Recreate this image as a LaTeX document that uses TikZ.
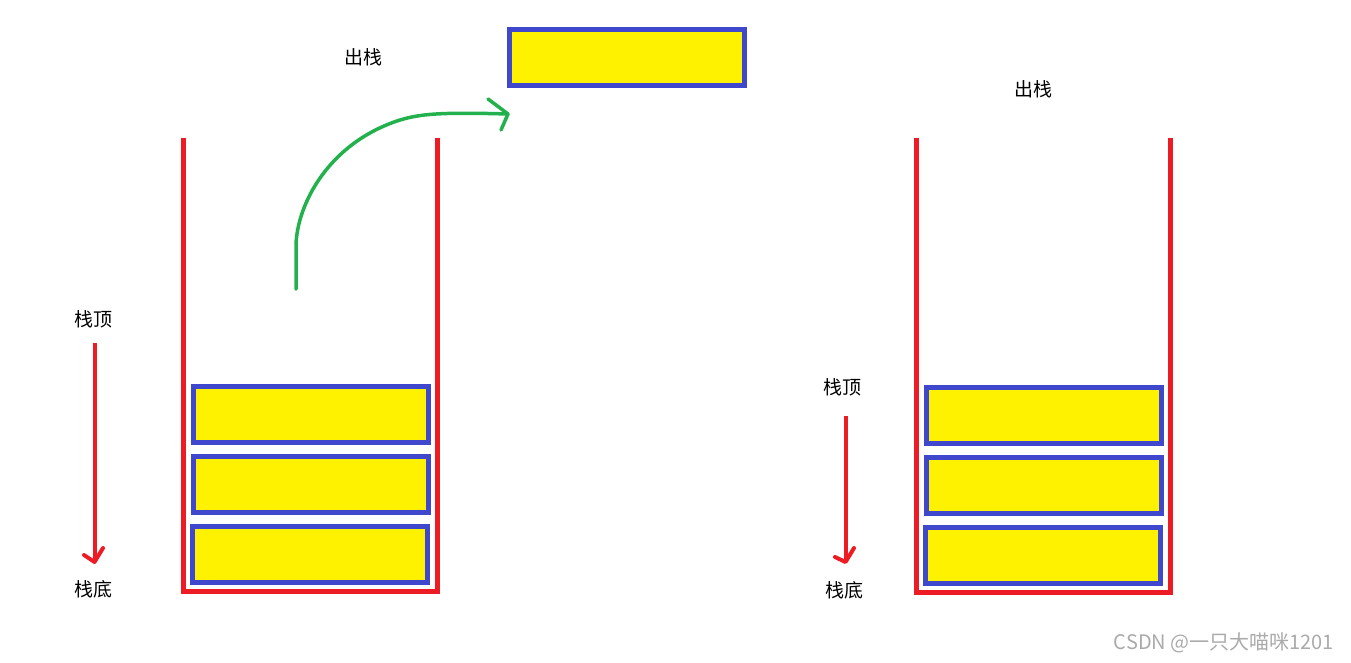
\documentclass[tikz,border=0pt]{standalone}
\usepackage{fontspec}
\setmainfont{Noto Sans CJK SC}
\definecolor{pred}{RGB}{237,28,36}
\definecolor{pblue}{RGB}{63,72,204}
\definecolor{pyellow}{RGB}{255,242,0}
\definecolor{pgreen}{RGB}{34,177,76}
\definecolor{wgray}{RGB}{170,170,170}
\tikzset{
  elem/.style={draw=pblue, fill=pyellow, line width=5pt, minimum width=235pt, minimum height=56pt, inner sep=0pt, rectangle},
  lbl/.style={inner sep=0pt, font=\fontsize{19}{19}\selectfont},
  wall/.style={draw=pred, line width=5pt, miter limit=10},
  redarrow/.style={draw=pred, line width=4pt},
  redhead/.style={draw=pred, line width=4pt, line cap=round, line join=round},
  greenline/.style={draw=pgreen, line width=3.5pt, line cap=round, line join=round}
}
\begin{document}
\begin{tikzpicture}[x=1pt,y=-1pt]
\useasboundingbox (0,0) rectangle (1351,662);
% left stack
\draw[wall] (183.5,138) -- (183.5,591.5) -- (437.5,591.5) -- (437.5,138);
\node[elem] (l1) at (311,414.5) {};
\node[elem] (l2) at (311,484.5) {};
\node[elem] (l3) at (310,554.5) {};
% popped element
\node[elem] (pop) at (627,57.5) {};
\node[lbl] (out1) at (363,57) {出栈};
% right stack
\draw[wall] (916.5,138) -- (916.5,592.5) -- (1170.5,592.5) -- (1170.5,138);
\node[elem] (r1) at (1044,415.5) {};
\node[elem] (r2) at (1044,485.5) {};
\node[elem] (r3) at (1043,555.5) {};
\node[lbl] (out2) at (1033,89) {出栈};
% left labels and arrow
\node[lbl] (ltop) at (93,319.5) {栈顶};
\node[lbl] (lbot) at (93,589) {栈底};
\coordinate (la1) at (94.5,343);
\coordinate (la2) at (94.5,562);
\draw[redarrow] (la1) -- (la2);
\draw[redhead] (84,555) -- (la2) -- (103,548);
% right labels and arrow
\node[lbl] (rtop) at (842,387) {栈顶};
\node[lbl] (rbot) at (844,590) {栈底};
\coordinate (ra1) at (845.5,416);
\coordinate (ra2) at (845.5,562);
\draw[redarrow] (ra1) -- (ra2);
\draw[redhead] (835,557) -- (ra2) -- (854,548);
% green curve
\coordinate (g0) at (296,289);
\coordinate (g1) at (296,245);
\coordinate (g2) at (400,120);
\coordinate (g3) at (508,114);
\draw[greenline] (g0) -- (g1) .. controls (297,205) and (328,143) .. (g2)
  .. controls (420,114) and (440,112) .. (g3);
\draw[greenline] (488,99) -- (g3) -- (501,130);
% watermark
\node[inner sep=0pt, text=wgray, font=\fontsize{20}{20}\selectfont] (wm) at (1224,643) {CSDN @一只大喵咪1201};
\end{tikzpicture}
\end{document}
